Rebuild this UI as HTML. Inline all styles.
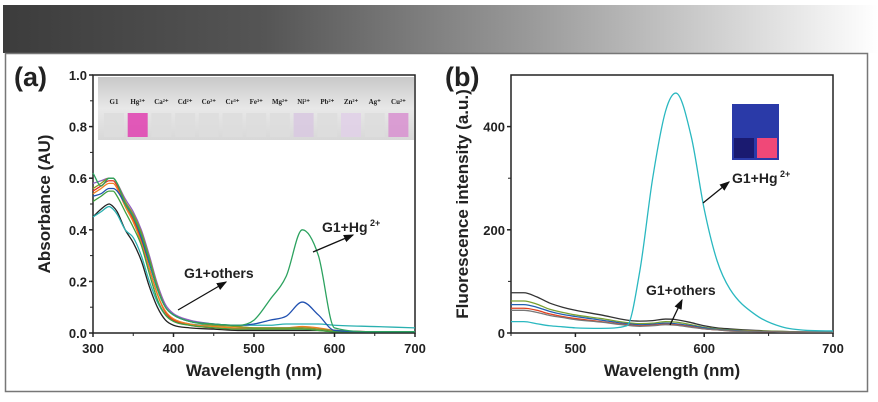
<!DOCTYPE html>
<html><head><meta charset="utf-8"><style>
html,body{margin:0;padding:0;background:#fff;width:878px;height:402px;overflow:hidden}
svg text{font-family:"Liberation Sans",sans-serif;font-weight:bold;fill:#222}
</style></head><body>
<svg id="fig" width="878" height="402" viewBox="0 0 878 402">
<defs>
<linearGradient id="hdr" x1="0" x2="1" y1="0" y2="0">
<stop offset="0" stop-color="#3c3c3c"/><stop offset="0.3" stop-color="#555"/><stop offset="0.6" stop-color="#999"/><stop offset="1" stop-color="#fff"/></linearGradient>
<linearGradient id="vials" x1="0" x2="0" y1="0" y2="1"><stop offset="0" stop-color="#c8c8c8"/><stop offset="0.5" stop-color="#e8e8e8"/><stop offset="1" stop-color="#d8d8d8"/></linearGradient>
<marker id="arr" markerWidth="8" markerHeight="8" refX="7" refY="4" orient="auto"><path d="M0,1 L8,4 L0,7 Z" fill="#111"/></marker>
</defs>
<rect x="3" y="5" width="875" height="48" fill="url(#hdr)"/>
<rect x="5.5" y="53.5" width="862" height="338" fill="none" stroke="#777" stroke-width="1.5"/>
<text x="14" y="86" font-size="27">(a)</text>
<text x="445" y="86" font-size="27">(b)</text>
<g id="pa"></g><g id="pb"></g>
</svg>
<script>
// Panel A data
const aWave=[300,310,320,325,330,340,350,360,370,380,390,400,420,450,480,500,520,540,560,580,600,650,700];
const aHg=[0.62,0.57,0.60,0.60,0.58,0.50,0.45,0.38,0.28,0.17,0.10,0.07,0.045,0.035,0.03,0.05,0.13,0.22,0.40,0.30,0.02,0.005,0.005];
const aBlue=[0.53,0.54,0.56,0.56,0.55,0.50,0.45,0.37,0.27,0.17,0.10,0.07,0.045,0.035,0.03,0.035,0.05,0.065,0.12,0.07,0.01,0.005,0.005];
const aCyan=[0.45,0.47,0.49,0.48,0.46,0.40,0.37,0.30,0.20,0.12,0.07,0.05,0.035,0.03,0.03,0.03,0.03,0.035,0.035,0.035,0.03,0.025,0.02];
const aBlack=[0.45,0.48,0.50,0.49,0.47,0.40,0.35,0.28,0.18,0.10,0.05,0.03,0.02,0.015,0.01,0.01,0.01,0.01,0.01,0.01,0.005,0.005,0.005];
const aRed=[0.55,0.57,0.59,0.59,0.57,0.50,0.44,0.36,0.25,0.15,0.08,0.05,0.03,0.02,0.015,0.015,0.015,0.015,0.02,0.015,0.01,0.005,0.005];
const aPurple=[0.58,0.59,0.60,0.60,0.58,0.52,0.47,0.40,0.30,0.19,0.11,0.075,0.05,0.035,0.025,0.02,0.02,0.02,0.02,0.015,0.01,0.005,0.005];
const aOrange=[0.54,0.56,0.58,0.58,0.56,0.49,0.43,0.35,0.25,0.15,0.085,0.055,0.035,0.025,0.02,0.02,0.02,0.02,0.025,0.02,0.01,0.005,0.005];
const aOlive=[0.56,0.58,0.60,0.60,0.58,0.51,0.46,0.39,0.29,0.18,0.10,0.07,0.045,0.03,0.025,0.02,0.02,0.02,0.02,0.015,0.01,0.005,0.005];
const aGreen2=[0.51,0.53,0.55,0.55,0.53,0.47,0.41,0.34,0.23,0.13,0.07,0.045,0.03,0.02,0.015,0.015,0.015,0.015,0.015,0.01,0.005,0.005,0.005];
const aSeries=[aBlack,aCyan,aRed,aOrange,aPurple,aOlive,aGreen2,aBlue,aHg];
const aColors=["#222","#2ab0b0","#e03020","#f08020","#9060c0","#8a9a20","#40a040","#2050b0","#2ca25f"];
const aYTicks=[0.0,0.2,0.4,0.6,0.8,1.0];
const aXTicks=[300,400,500,600,700];
// Panel B data
const bWave=[450,460,470,480,490,500,520,540,550,560,570,578,590,600,610,620,640,660,680,700];
const bHg=[22,22,18,14,12,10,9,14,120,300,430,465,380,240,140,85,35,12,5,4];
const bBlack=[78,78,70,58,50,44,35,25,23,24,27,26,20,14,10,8,5,3,2,2];
const bOlive=[62,62,56,46,40,35,28,20,18,19,22,21,16,11,8,6,4,3,2,2];
const bBlue=[55,55,50,42,36,32,25,18,16,17,19,18,14,10,7,5,3,2,2,2];
const bRed=[48,48,44,37,32,28,22,16,14,15,17,16,12,8,6,4,3,2,2,2];
const bGray=[44,44,40,34,30,26,21,15,13,14,16,15,11,8,6,4,3,2,2,2];
const bSeries=[bBlack,bOlive,bBlue,bRed,bGray,bHg];
const bColors=["#333","#7aa030","#2060b0","#e04020","#777","#2ab8c0"];
const bYTicks=[0,200,400];
const bXTicks=[500,600,700];

const NS="http://www.w3.org/2000/svg";
function mk(p,t,a){const e=document.createElementNS(NS,t);for(const k in a)e.setAttribute(k,a[k]);p.appendChild(e);return e;}
// monotone cubic (no overshoot)
function smooth(pts){const n=pts.length,dx=[],s=[],m=[];
 for(let i=0;i<n-1;i++){dx[i]=pts[i+1][0]-pts[i][0];s[i]=(pts[i+1][1]-pts[i][1])/dx[i];}
 m[0]=s[0];m[n-1]=s[n-2];
 for(let i=1;i<n-1;i++){m[i]=(s[i-1]*s[i]<=0)?0:(s[i-1]+s[i])/2;}
 for(let i=0;i<n-1;i++){if(s[i]===0){m[i]=0;m[i+1]=0;continue;}const a=m[i]/s[i],b=m[i+1]/s[i],h=a*a+b*b;if(h>9){const t=3/Math.sqrt(h);m[i]=t*a*s[i];m[i+1]=t*b*s[i];}}
 let d="M"+pts[0][0]+","+pts[0][1];
 for(let i=0;i<n-1;i++){const h=dx[i]/3;d+=" C"+(pts[i][0]+h)+","+(pts[i][1]+m[i]*h)+" "+(pts[i+1][0]-h)+","+(pts[i+1][1]-m[i+1]*h)+" "+pts[i+1][0]+","+pts[i+1][1];}
 return d;}

function panel(g,o){
 const X=v=>o.x0+(v-o.xmin)/(o.xmax-o.xmin)*(o.x1-o.x0);
 const Y=v=>o.y0-(v-o.ymin)/(o.ymax-o.ymin)*(o.y0-o.y1);
 const fr=mk(g,"rect",{x:o.x0,y:o.y1,width:o.x1-o.x0,height:o.y0-o.y1,fill:"none",stroke:"#222","stroke-width":1.5});
 
 
 o.xt.forEach(v=>{const l=mk(g,"line",{x1:X(v),x2:X(v),y1:o.y0,y2:o.y0+4,stroke:"#222","stroke-width":1.5});
  
  
  const t=mk(g,"text",{x:X(v),y:o.y0+20,"font-size":13,"text-anchor":"middle"});t.textContent=v;
  
  });
 o.xm.forEach(v=>{const l=mk(g,"line",{x1:X(v),x2:X(v),y1:o.y0,y2:o.y0+3,stroke:"#222","stroke-width":1});
  
  });
 o.yt.forEach(v=>{const l=mk(g,"line",{x1:o.x0-4,x2:o.x0,y1:Y(v),y2:Y(v),stroke:"#222","stroke-width":1.5});
  
  
  const t=mk(g,"text",{x:o.x0-6,y:Y(v)+5,"font-size":13,"text-anchor":"end"});t.textContent=o.fmt(v);
  
  });
 o.ym.forEach(v=>{const l=mk(g,"line",{x1:o.x0-3,x2:o.x0,y1:Y(v),y2:Y(v),stroke:"#222","stroke-width":1});
  
  });
 o.series.forEach((s,i)=>{const pts=o.wave.map((w,j)=>[X(w),Y(s[j])]);
  const p=mk(g,"path",{d:smooth(pts),fill:"none",stroke:o.colors[i],"stroke-width":1.3});
  
  });
 const xt=mk(g,"text",{x:(o.x0+o.x1)/2,y:o.y0+43,"font-size":17,"text-anchor":"middle"});xt.textContent="Wavelength (nm)";
 
 
 const yt=mk(g,"text",{x:0,y:0,"font-size":17,"text-anchor":"middle",transform:"translate("+o.ytx+","+(o.y0+o.y1)/2+") rotate(-90)"});yt.textContent=o.ytitle;
 
 
 return {X,Y};
}
const ga=document.getElementById("pa"),gb=document.getElementById("pb");
const A=panel(ga,{id:"a",x0:93,x1:415,y0:333,y1:75,xmin:300,xmax:700,ymin:0,ymax:1.0,xt:aXTicks,xm:[350,450,550,650],yt:aYTicks,ym:[0.1,0.3,0.5,0.7,0.9],fmt:v=>v.toFixed(1),wave:aWave,series:aSeries,colors:aColors,ytitle:"Absorbance (AU)",ytx:50});
const B=panel(gb,{id:"b",x0:511,x1:833,y0:333,y1:75,xmin:450,xmax:700,ymin:0,ymax:500,xt:bXTicks,xm:[450,550,650],yt:bYTicks,ym:[100,300],fmt:v=>v,wave:bWave,series:bSeries,colors:bColors,ytitle:"Fluorescence intensity (a.u.)",ytx:468});
</script>
<script>
const fig=document.getElementById("fig");
function add(t,a,txt){const e=mk(fig,t,a);if(txt)e.textContent=txt;return e;}
// photo inset a
const ph=add("rect",{x:98,y:77,width:316,height:63,fill:"url(#vials)"});


const vl=["G1","Hg²⁺","Ca²⁺","Cd²⁺","Co²⁺","Cr³⁺","Fe³⁺","Mg²⁺","Ni²⁺","Pb²⁺","Zn²⁺","Ag⁺","Cu²⁺"];
const vc=["#ddd","#e040b0","#ddd","#ddd","#ddd","#ddd","#ddd","#ddd","#d8c8e0","#ddd","#e0d0e8","#ddd","#d890d0"];
vl.forEach((s,i)=>{const x=104+i*23.7;
 const r=add("rect",{x:x,y:113,width:20,height:24,fill:vc[i],opacity:0.85});
 
 
 const t=add("text",{x:x+10,y:104,"font-size":7,"text-anchor":"middle",style:"font-family:'Liberation Serif',serif"},s);
 
 });
// photo inset b
const pb1=add("rect",{x:732,y:104,width:47,height:56,fill:"#2a3aa8"});


const pb2=add("rect",{x:734,y:138,width:20,height:20,fill:"#1a1a70"});


const pb3=add("rect",{x:757,y:138,width:20,height:20,fill:"#f04878"});


// annotations a
const t1=add("text",{x:322,y:232,"font-size":14},"G1+Hg");


const s1=add("text",{x:370,y:226,"font-size":9},"2+");


const a1=add("line",{x1:313,y1:252,x2:353,y2:235,stroke:"#111","stroke-width":1.3,"marker-end":"url(#arr)"});


const t2=add("text",{x:184,y:278,"font-size":14},"G1+others");


const a2=add("line",{x1:178,y1:310,x2:226,y2:282,stroke:"#111","stroke-width":1.3,"marker-end":"url(#arr)"});


// annotations b
const t3=add("text",{x:732,y:183,"font-size":14},"G1+Hg");


const s3=add("text",{x:780,y:177,"font-size":9},"2+");


const a3=add("line",{x1:703,y1:203,x2:729,y2:182,stroke:"#111","stroke-width":1.3,"marker-end":"url(#arr)"});


const t4=add("text",{x:646,y:295,"font-size":14},"G1+others");


const a4=add("line",{x1:670,y1:325,x2:682,y2:300,stroke:"#111","stroke-width":1.3,"marker-end":"url(#arr)"});


</script>
</body></html>
